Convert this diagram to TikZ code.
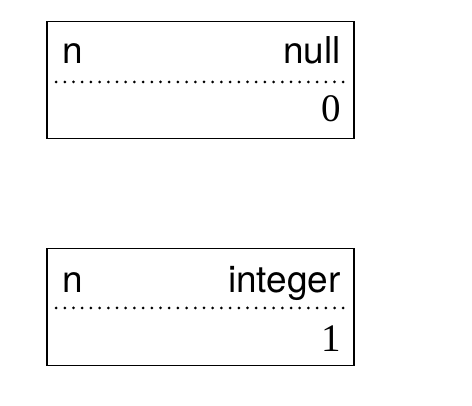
\documentclass[tikz,border=0pt]{standalone}
\usepackage{fontspec}
\setsansfont{TeX Gyre Heros}
\newfontfamily\digitfont{Liberation Serif}
\usepackage{tikz}

\tikzset{
    varbox/.style={draw,line width=1.8pt,minimum width=307pt,minimum height=117pt,inner sep=0pt},
    dotline/.style={line width=3pt,line cap=round,dash pattern=on 0pt off 8.7pt},
    typetext/.style={inner sep=0pt,font=\sffamily\fontsize{37}{40}\selectfont},
    valuetext/.style={inner sep=0pt,font=\digitfont\fontsize{39}{44}\selectfont}
}

\begin{document}
\begin{tikzpicture}[x=1pt,y=-1pt]
    \useasboundingbox (0,0) rectangle (472,406);

    \node[varbox] (null-box) at (200.5,80) {};
    \draw[dotline] ([xshift=10pt,yshift=-2pt]null-box.west)--([xshift=-9pt,yshift=-2pt]null-box.east);
    \node[typetext,anchor=base west] (null-name) at ([xshift=16pt,yshift=-43pt]null-box.north west) {n};
    \node[typetext,anchor=base east] (null-type) at ([xshift=-14pt,yshift=-43pt]null-box.north east) {null};
    \node[valuetext,anchor=base east] (null-value) at ([xshift=-14pt,yshift=-101pt]null-box.north east) {0};

    \node[varbox] (int-box) at (200.5,307) {};
    \draw[dotline] ([xshift=10pt,yshift=-1pt]int-box.west)--([xshift=-9pt,yshift=-1pt]int-box.east);
    \node[typetext,anchor=base west] (int-name) at ([xshift=16pt,yshift=-45pt]int-box.north west) {n};
    \node[typetext,anchor=base east] (int-type) at ([xshift=-14pt,yshift=-45pt]int-box.north east) {integer};
    \node[valuetext,anchor=base east] (int-value) at ([xshift=-14pt,yshift=-104pt]int-box.north east) {1};
\end{tikzpicture}
\end{document}
